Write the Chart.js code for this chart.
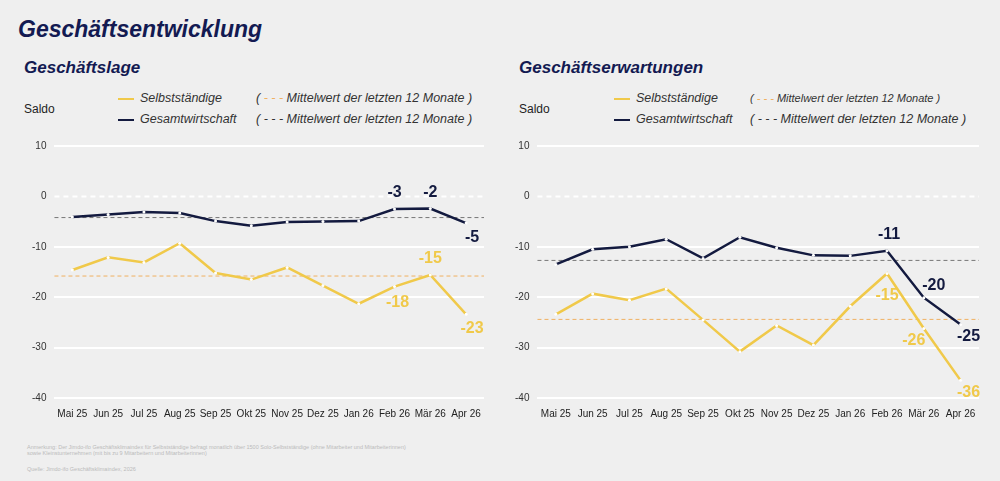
<!DOCTYPE html><html><head><meta charset="utf-8">
<script src="https://cdn.jsdelivr.net/npm/chart.js@4"></script>
<style>
body{margin:0;width:1000px;height:481px;background:#efefef;font-family:Arial,"Liberation Sans",sans-serif;position:relative;overflow:hidden}
.t{position:absolute;color:#131a52;font-weight:bold;font-style:italic}
.s{position:absolute;font-size:12px;color:#222}
.lg{position:absolute;font-size:12.5px;font-style:italic;color:#333;white-space:nowrap}
.ln{display:inline-block;width:16px;height:0;vertical-align:middle;margin-right:6px}
.c{position:absolute}
.fn{position:absolute;font-size:5.5px;color:#bbb;left:27px}
</style></head><body>
<div class="t" style="left:18px;top:16px;font-size:23px">Geschäftsentwicklung</div>
<div class="t" style="left:24px;top:58px;font-size:17px">Geschäftslage</div>
<div class="t" style="left:519px;top:58px;font-size:17px">Geschäftserwartungen</div>
<div class="s" style="left:24px;top:102px">Saldo</div>
<div class="s" style="left:519px;top:102px">Saldo</div>
<div class="lg" style="left:118px;top:91px"><span class="ln" style="border-top:2px solid #f0c94a"></span>Selbstständige</div>
<div class="lg" style="left:118px;top:112px"><span class="ln" style="border-top:2px solid #131a3f"></span>Gesamtwirtschaft</div>
<div class="lg" style="left:256px;top:91px">( <span style="color:#f0b060">- - -</span> Mittelwert der letzten 12 Monate )</div>
<div class="lg" style="left:256px;top:112px">( - - - Mittelwert der letzten 12 Monate )</div>
<div class="lg" style="left:614px;top:91px"><span class="ln" style="border-top:2px solid #f0c94a"></span>Selbstständige</div>
<div class="lg" style="left:614px;top:112px"><span class="ln" style="border-top:2px solid #131a3f"></span>Gesamtwirtschaft</div>
<div class="lg" style="left:750px;top:92px;font-size:11px">( <span style="color:#f0b060">- - -</span> Mittelwert der letzten 12 Monate )</div>
<div class="lg" style="left:750px;top:112px">( - - - Mittelwert der letzten 12 Monate )</div>
<div class="c" style="left:24px;top:132px;width:466px;height:290px"><canvas id="a"></canvas></div>
<div class="c" style="left:507px;top:132px;width:478px;height:290px"><canvas id="b"></canvas></div>
<div class="fn" style="top:444px">Anmerkung: Der Jimdo-ifo Geschäftsklimaindex für Selbstständige befragt monatlich über 1500 Solo-Selbstständige (ohne Mitarbeiter und Mitarbeiterinnen)<br>sowie Kleinstunternehmen (mit bis zu 9 Mitarbeitern und Mitarbeiterinnen)</div>
<div class="fn" style="top:466px">Quelle: Jimdo-ifo Geschäftsklimaindex, 2026</div>
<script>
const categories=["Mai 25","Jun 25","Jul 25","Aug 25","Sep 25","Okt 25","Nov 25","Dez 25","Jan 26","Feb 26","Mär 26","Apr 26"];
const lageSelbst=[-14.6,-12.1,-13.1,-9.3,-15.2,-16.5,-14.1,-17.7,-21.3,-17.9,-15.6,-23.4];
const lageGesamt=[-4.1,-3.6,-3.1,-3.3,-4.9,-5.8,-5.1,-5.0,-4.9,-2.5,-2.4,-5.3];
const lageMeanSelbst=-15.8, lageMeanGesamt=-4.2;
const erwSelbst=[-23.4,-19.3,-20.6,-18.3,-24.5,-30.8,-25.6,-29.5,-21.8,-15.3,-26.2,-36.5];
const erwGesamt=[-13.5,-10.5,-10.0,-8.5,-12.3,-8.1,-10.2,-11.7,-11.8,-10.8,-20.1,-25.4];
const erwMeanSelbst=-24.4, erwMeanGesamt=-12.7;
const yTicks=[10,0,-10,-20,-30,-40];
const lageLabels=[[1,9,"-3",0,-16],[1,10,"-2",0,-16],[1,11,"-5",6,14],[0,9,"-18",3,16],[0,10,"-15",0,-16],[0,11,"-23",6,14]];
const erwLabels=[[1,9,"-11",2,-16],[1,10,"-20",10,-12],[1,11,"-25",8,12],[0,9,"-15",0,22],[0,10,"-26",-10,12],[0,11,"-36",8,12]];
const Y="#f0c94a",N="#131a3f";
function make(id,s,g,ms,mg,labs){
 new Chart(document.getElementById(id),{type:'line',
 data:{labels:categories,datasets:[
  {data:s,borderColor:Y,borderWidth:2.5,pointRadius:1.5,pointBackgroundColor:'#fff',pointBorderWidth:0,tension:0},
  {data:g,borderColor:N,borderWidth:2.5,pointRadius:1.5,pointBackgroundColor:'#fff',pointBorderWidth:0,tension:0}]},
 options:{animation:false,responsive:true,maintainAspectRatio:false,
  layout:{padding:{right:6,top:5}},
  plugins:{legend:{display:false},tooltip:{enabled:false}},
  scales:{x:{grid:{display:false},border:{display:false},offset:true,ticks:{color:'#222',font:{size:10},maxRotation:0,autoSkip:false,padding:2}},
   y:{min:-40,max:10,border:{display:false},afterBuildTicks:a=>{a.ticks=yTicks.map(v=>({value:v}))},
    ticks:{color:'#333',font:{size:10},padding:8},
    grid:{color:c=>c.tick.value===0?'rgba(0,0,0,0)':'#fff',lineWidth:2,drawTicks:false}}}},
 plugins:[{id:'x',beforeDatasetsDraw(ch){const c=ch.ctx,a=ch.chartArea,y=ch.scales.y;c.save();
   c.setLineDash([5,4]);c.lineWidth=2;c.strokeStyle='#fff';let p=y.getPixelForValue(0);c.beginPath();c.moveTo(a.left,p);c.lineTo(a.right,p);c.stroke();
   c.setLineDash([4,3]);c.lineWidth=1;
   c.strokeStyle='#f0b060';p=y.getPixelForValue(ms);c.beginPath();c.moveTo(a.left,p);c.lineTo(a.right,p);c.stroke();
   c.strokeStyle='#777';p=y.getPixelForValue(mg);c.beginPath();c.moveTo(a.left,p);c.lineTo(a.right,p);c.stroke();c.restore();},
  afterDatasetsDraw(ch){const c=ch.ctx;c.save();c.font='bold 16px Arial';c.textAlign='center';c.textBaseline='middle';
   labs.forEach(([d,i,t,dx,dy])=>{const el=ch.getDatasetMeta(d).data[i];c.fillStyle=d?N:Y;c.fillText(t,el.x+dx,el.y+dy);});c.restore();}}]});
}
make('a',lageSelbst,lageGesamt,lageMeanSelbst,lageMeanGesamt,lageLabels);
make('b',erwSelbst,erwGesamt,erwMeanSelbst,erwMeanGesamt,erwLabels);
</script></body></html>
